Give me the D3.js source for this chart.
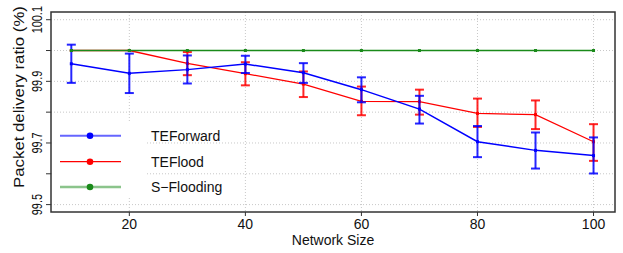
<!DOCTYPE html>
<html>
<head>
<meta charset="utf-8">
<script src="https://cdn.jsdelivr.net/npm/d3@7"></script>
<style>
  body { margin: 0; background: #fff; }
  text { font-family: "Liberation Sans", Arial, sans-serif; fill: #111; }
</style>
</head>
<body>
<div id="chart"></div>
<script>
// network sizes (x)
let sizes = [10, 20, 30, 40, 50, 60, 70, 80, 90, 100]

// TEForward: mean and error bar ends
let teforward = [99.957, 99.926, 99.938, 99.956, 99.928, 99.873, 99.810, 99.704, 99.676, 99.659]
let teforwardLo = [99.895, 99.862, 99.893, 99.927, 99.895, 99.832, 99.763, 99.654, 99.617, 99.601]
let teforwardHi = [100.019, 99.990, 99.984, 99.983, 99.959, 99.913, 99.853, 99.755, 99.734, 99.718]

// TEFlood
let teflood = [100.0, 100.0, 99.958, 99.925, 99.891, 99.835, 99.834, 99.796, 99.792, 99.704]
let tefloodLo = [100.0, 100.0, 99.920, 99.887, 99.849, 99.790, 99.792, 99.752, 99.745, 99.642]
let tefloodHi = [100.0, 100.0, 99.995, 99.962, 99.932, 99.883, 99.873, 99.844, 99.838, 99.761]

// S-Flooding
let sflooding = [100.0, 100.0, 100.0, 100.0, 100.0, 100.0, 100.0, 100.0, 100.0, 100.0]

let xTicks = [20, 40, 60, 80, 100]
let yTicks = [99.5, 99.6, 99.7, 99.8, 99.9, 100.0, 100.1]
let yLabels = ["99.5", "99.7", "99.9", "100.1"]
let legendNames = ["TEForward", "TEFlood", "S\u2212Flooding"]

let W = 623, H = 253
let margin = { top: 12, right: 8, bottom: 41, left: 51 }

let svg = d3.select("#chart").append("svg")
    .attr("width", W)
    .attr("height", H)

let x = d3.scaleLinear().domain([6.5, 103.7]).range([margin.left, W - margin.right])
let y = d3.scaleLinear().domain([99.476, 100.125]).range([H - margin.bottom, margin.top])

//网格线
svg.append("g").selectAll("line")
    .data(yTicks)
    .enter()
    .append("line")
    .attr("x1", margin.left).attr("x2", W - margin.right)
    .attr("y1", d => y(d)).attr("y2", d => y(d))
    .attr("stroke", "#c8c8c8")
    .attr("stroke-dasharray", "1,2")

svg.append("g").selectAll("line")
    .data(xTicks)
    .enter()
    .append("line")
    .attr("x1", d => x(d)).attr("x2", d => x(d))
    .attr("y1", margin.top).attr("y2", H - margin.bottom)
    .attr("stroke", "#c8c8c8")
    .attr("stroke-dasharray", "1,2")

// legend background hides grid behind the samples
svg.append("rect")
    .attr("x", margin.left + 1).attr("y", 121)
    .attr("width", 95).attr("height", 76)
    .attr("fill", "#fff")

let series = [
    { name: "TEFlood", color: "#ff0000", w: 1.3, v: teflood, lo: tefloodLo, hi: tefloodHi },
    { name: "TEForward", color: "#0000ff", w: 1.5, v: teforward, lo: teforwardLo, hi: teforwardHi },
    { name: "S-Flooding", color: "#1a8a1a", w: 1.5, v: sflooding, lo: null, hi: null }
]

let line = d3.line().x(d => x(d[0])).y(d => y(d[1]))

series.forEach(function (s) {
    let pts = sizes.map((d, i) => [d, s.v[i]])
    let g = svg.append("g")
    g.append("path")
        .attr("d", line(pts))
        .attr("fill", "none")
        .attr("stroke", s.color)
        .attr("stroke-width", s.w)

    if (s.lo) {
        let bars = sizes.map((d, i) => ({ x: d, lo: s.lo[i], hi: s.hi[i] })).filter(d => d.hi > d.lo)
        g.selectAll(".bar").data(bars).enter().append("line")
            .attr("x1", d => x(d.x)).attr("x2", d => x(d.x))
            .attr("y1", d => y(d.lo)).attr("y2", d => y(d.hi))
            .attr("stroke", s.color).attr("stroke-width", 2).attr("opacity", 0.85)
        g.selectAll(".capt").data(bars).enter().append("line")
            .attr("x1", d => x(d.x) - 4.5).attr("x2", d => x(d.x) + 4.5)
            .attr("y1", d => y(d.hi)).attr("y2", d => y(d.hi))
            .attr("stroke", s.color).attr("stroke-width", 2).attr("opacity", 0.85)
        g.selectAll(".capb").data(bars).enter().append("line")
            .attr("x1", d => x(d.x) - 4.5).attr("x2", d => x(d.x) + 4.5)
            .attr("y1", d => y(d.lo)).attr("y2", d => y(d.lo))
            .attr("stroke", s.color).attr("stroke-width", 2).attr("opacity", 0.85)
    }

    g.selectAll(".pt").data(pts).enter().append("rect")
        .attr("x", d => x(d[0]) - 1.5).attr("y", d => y(d[1]) - 1.5)
        .attr("width", 3).attr("height", 3)
        .attr("fill", s.color)
})

// 坐标轴框
svg.append("rect")
    .attr("x", margin.left).attr("y", margin.top)
    .attr("width", W - margin.left - margin.right)
    .attr("height", H - margin.top - margin.bottom)
    .attr("fill", "none")
    .attr("stroke", "#333")
    .attr("stroke-width", 1.5)

// y ticks
svg.append("g").selectAll("line")
    .data(yTicks).enter().append("line")
    .attr("x1", margin.left - 5).attr("x2", margin.left)
    .attr("y1", d => y(d)).attr("y2", d => y(d))
    .attr("stroke", "#333")

svg.append("g").selectAll("text")
    .data(yLabels).enter().append("text")
    .attr("transform", d => "translate(42," + y(+d) + ") rotate(-90) scale(0.78,1)")
    .attr("text-anchor", "middle")
    .style("font-size", "14px")
    .text(d => d)

// x ticks
svg.append("g").selectAll("line")
    .data(xTicks).enter().append("line")
    .attr("x1", d => x(d)).attr("x2", d => x(d))
    .attr("y1", H - margin.bottom).attr("y2", H - margin.bottom + 4)
    .attr("stroke", "#333")

svg.append("g").selectAll("text")
    .data(xTicks).enter().append("text")
    .attr("x", d => x(d)).attr("y", 228.5)
    .attr("text-anchor", "middle")
    .style("font-size", "14px")
    .text(d => d)

// axis titles
svg.append("text")
    .attr("x", (margin.left + W - margin.right) / 2).attr("y", 245)
    .attr("text-anchor", "middle")
    .style("font-size", "14px")
    .text("Network Size")

svg.append("text")
    .attr("transform", "translate(23.5,97) rotate(-90) scale(1.12,1)")
    .attr("text-anchor", "middle")
    .style("font-size", "15px")
    .text("Packet delivery ratio (%)")

// legend
let legendY = [135.7, 161.7, 187]
let legendStyle = [
    { color: "#0000ff", w: 2, op: 0.6 },
    { color: "#ff0000", w: 1.3, op: 1 },
    { color: "#1a8a1a", w: 2.5, op: 0.5 }
]
let lg = svg.append("g").selectAll("g")
    .data(legendNames).enter().append("g")
    .attr("transform", (d, i) => "translate(0," + legendY[i] + ")")

lg.append("line")
    .attr("x1", 60).attr("x2", 121)
    .attr("stroke", (d, i) => legendStyle[i].color)
    .attr("stroke-width", (d, i) => legendStyle[i].w)
    .attr("opacity", (d, i) => legendStyle[i].op)
lg.append("circle")
    .attr("cx", 90).attr("r", 3.3)
    .attr("fill", (d, i) => legendStyle[i].color)
lg.append("text")
    .attr("x", 151).attr("y", 5)
    .style("font-size", "14px")
    .text(d => d)
</script>
</body>
</html>
